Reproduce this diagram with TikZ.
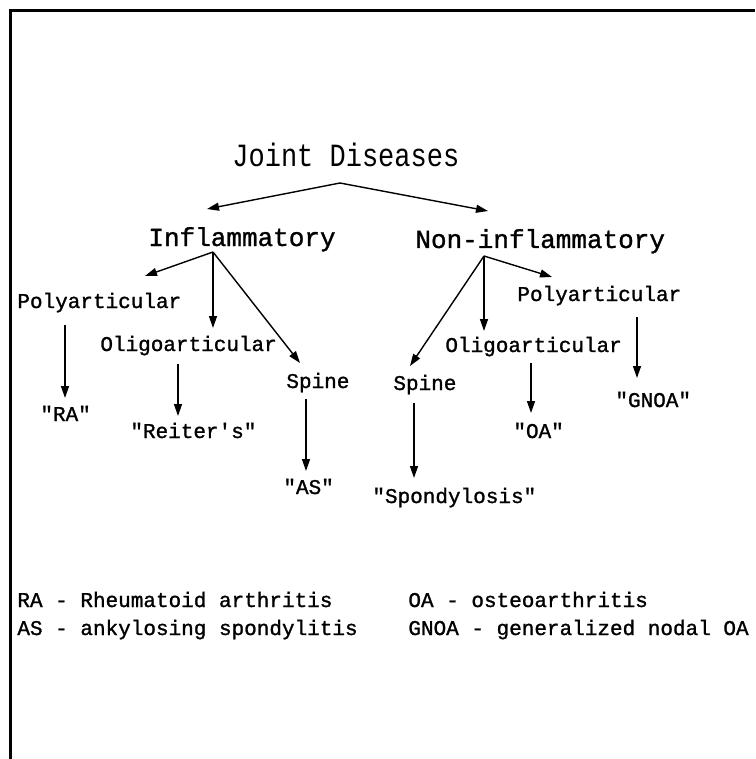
\documentclass[tikz,border=0pt]{standalone}
\usepackage{fontspec}
\usepackage{graphicx}
\usetikzlibrary{arrows.meta}
\newfontfamily\typefont{Liberation Mono}
\newfontfamily\heavyfont{Liberation Mono}[FakeBold=1.2]
\tikzstyle{every node}=[inner sep=0pt, anchor=base west]
\tikzstyle{title}=[font=\typefont\fontsize{13.5}{16}\selectfont]
\tikzstyle{head}=[font=\heavyfont\fontsize{13}{15}\selectfont]
\tikzstyle{leaf}=[font=\heavyfont\fontsize{10.5}{12}\selectfont]
\tikzstyle{arr}=[-{Triangle[length=6pt,width=4pt]}, line width=0.7pt]

\begin{document}
\begin{tikzpicture}[x=0.5pt, y=-0.5pt]
    \useasboundingbox (0,0) rectangle (755,759);
    \draw[line width=1.5pt] (10,759) -- (10,11) -- (755,11);

    % tree
    \node[title] (jd) at (232,167) {\scalebox{1}[1.2]{Joint Diseases}};
    \node[head] (infl) at (148,246) {Inflammatory};
    \node[head] (noninfl) at (415,248) {Non-inflammatory};

    \node[leaf] (polyL) at (17,308) {Polyarticular};
    \node[leaf] (oligoL) at (100,351) {Oligoarticular};
    \node[leaf] (spineL) at (286,388) {Spine};
    \node[leaf] (ra) at (40,421) {"RA"};
    \node[leaf] (reiter) at (130,438) {"Reiter\textquotesingle s"};
    \node[leaf] (as) at (283,494) {"AS"};

    \node[leaf] (polyR) at (517,301) {Polyarticular};
    \node[leaf] (oligoR) at (445,352) {Oligoarticular};
    \node[leaf] (spineR) at (393,390) {Spine};
    \node[leaf] (oa) at (513,438) {"OA"};
    \node[leaf] (gnoa) at (615,407) {"GNOA"};
    \node[leaf] (spond) at (372,503) {"Spondylosis"};

    % arrow ends
    \coordinate (jd-out) at (340,183);
    \coordinate (infl-in) at (207,209);
    \coordinate (noninfl-in) at (488,211);
    \coordinate (infl-out) at (213,252);
    \coordinate (polyL-in) at (145,276);
    \coordinate (oligoL-in) at (213,328);
    \coordinate (spineL-in) at (300,363);
    \coordinate (noninfl-out) at (484,256);
    \coordinate (spineR-in) at (410,366);
    \coordinate (oligoR-in) at (484,331);
    \coordinate (polyR-in) at (552,277);
    \coordinate (polyL-out) at (65,325);
    \coordinate (ra-in) at (65,398);
    \coordinate (oligoL-out) at (178,364);
    \coordinate (reiter-in) at (178,416);
    \coordinate (spineL-out) at (306,399);
    \coordinate (as-in) at (306,471);
    \coordinate (spineR-out) at (414,403);
    \coordinate (spond-in) at (414,478);
    \coordinate (oligoR-out) at (531,363);
    \coordinate (oa-in) at (531,413);
    \coordinate (polyR-out) at (637,317);
    \coordinate (gnoa-in) at (637,378);

    \draw[arr] (jd-out) -- (infl-in);
    \draw[arr] (jd-out) -- (noninfl-in);
    \draw[arr] (infl-out) -- (polyL-in);
    \draw[arr] (infl-out) -- (oligoL-in);
    \draw[arr] (infl-out) -- (spineL-in);
    \draw[arr] (noninfl-out) -- (spineR-in);
    \draw[arr] (noninfl-out) -- (oligoR-in);
    \draw[arr] (noninfl-out) -- (polyR-in);
    \draw[arr] (polyL-out) -- (ra-in);
    \draw[arr] (oligoL-out) -- (reiter-in);
    \draw[arr] (spineL-out) -- (as-in);
    \draw[arr] (spineR-out) -- (spond-in);
    \draw[arr] (oligoR-out) -- (oa-in);
    \draw[arr] (polyR-out) -- (gnoa-in);

    % legend
    \node[leaf] (legRA) at (17,607) {RA - Rheumatoid arthritis};
    \node[leaf] (legOA) at (408,607) {OA - osteoarthritis};
    \node[leaf] (legAS) at (17,635) {AS - ankylosing spondylitis};
    \node[leaf] (legGNOA) at (408,635) {GNOA - generalized nodal OA};
\end{tikzpicture}
\end{document}
